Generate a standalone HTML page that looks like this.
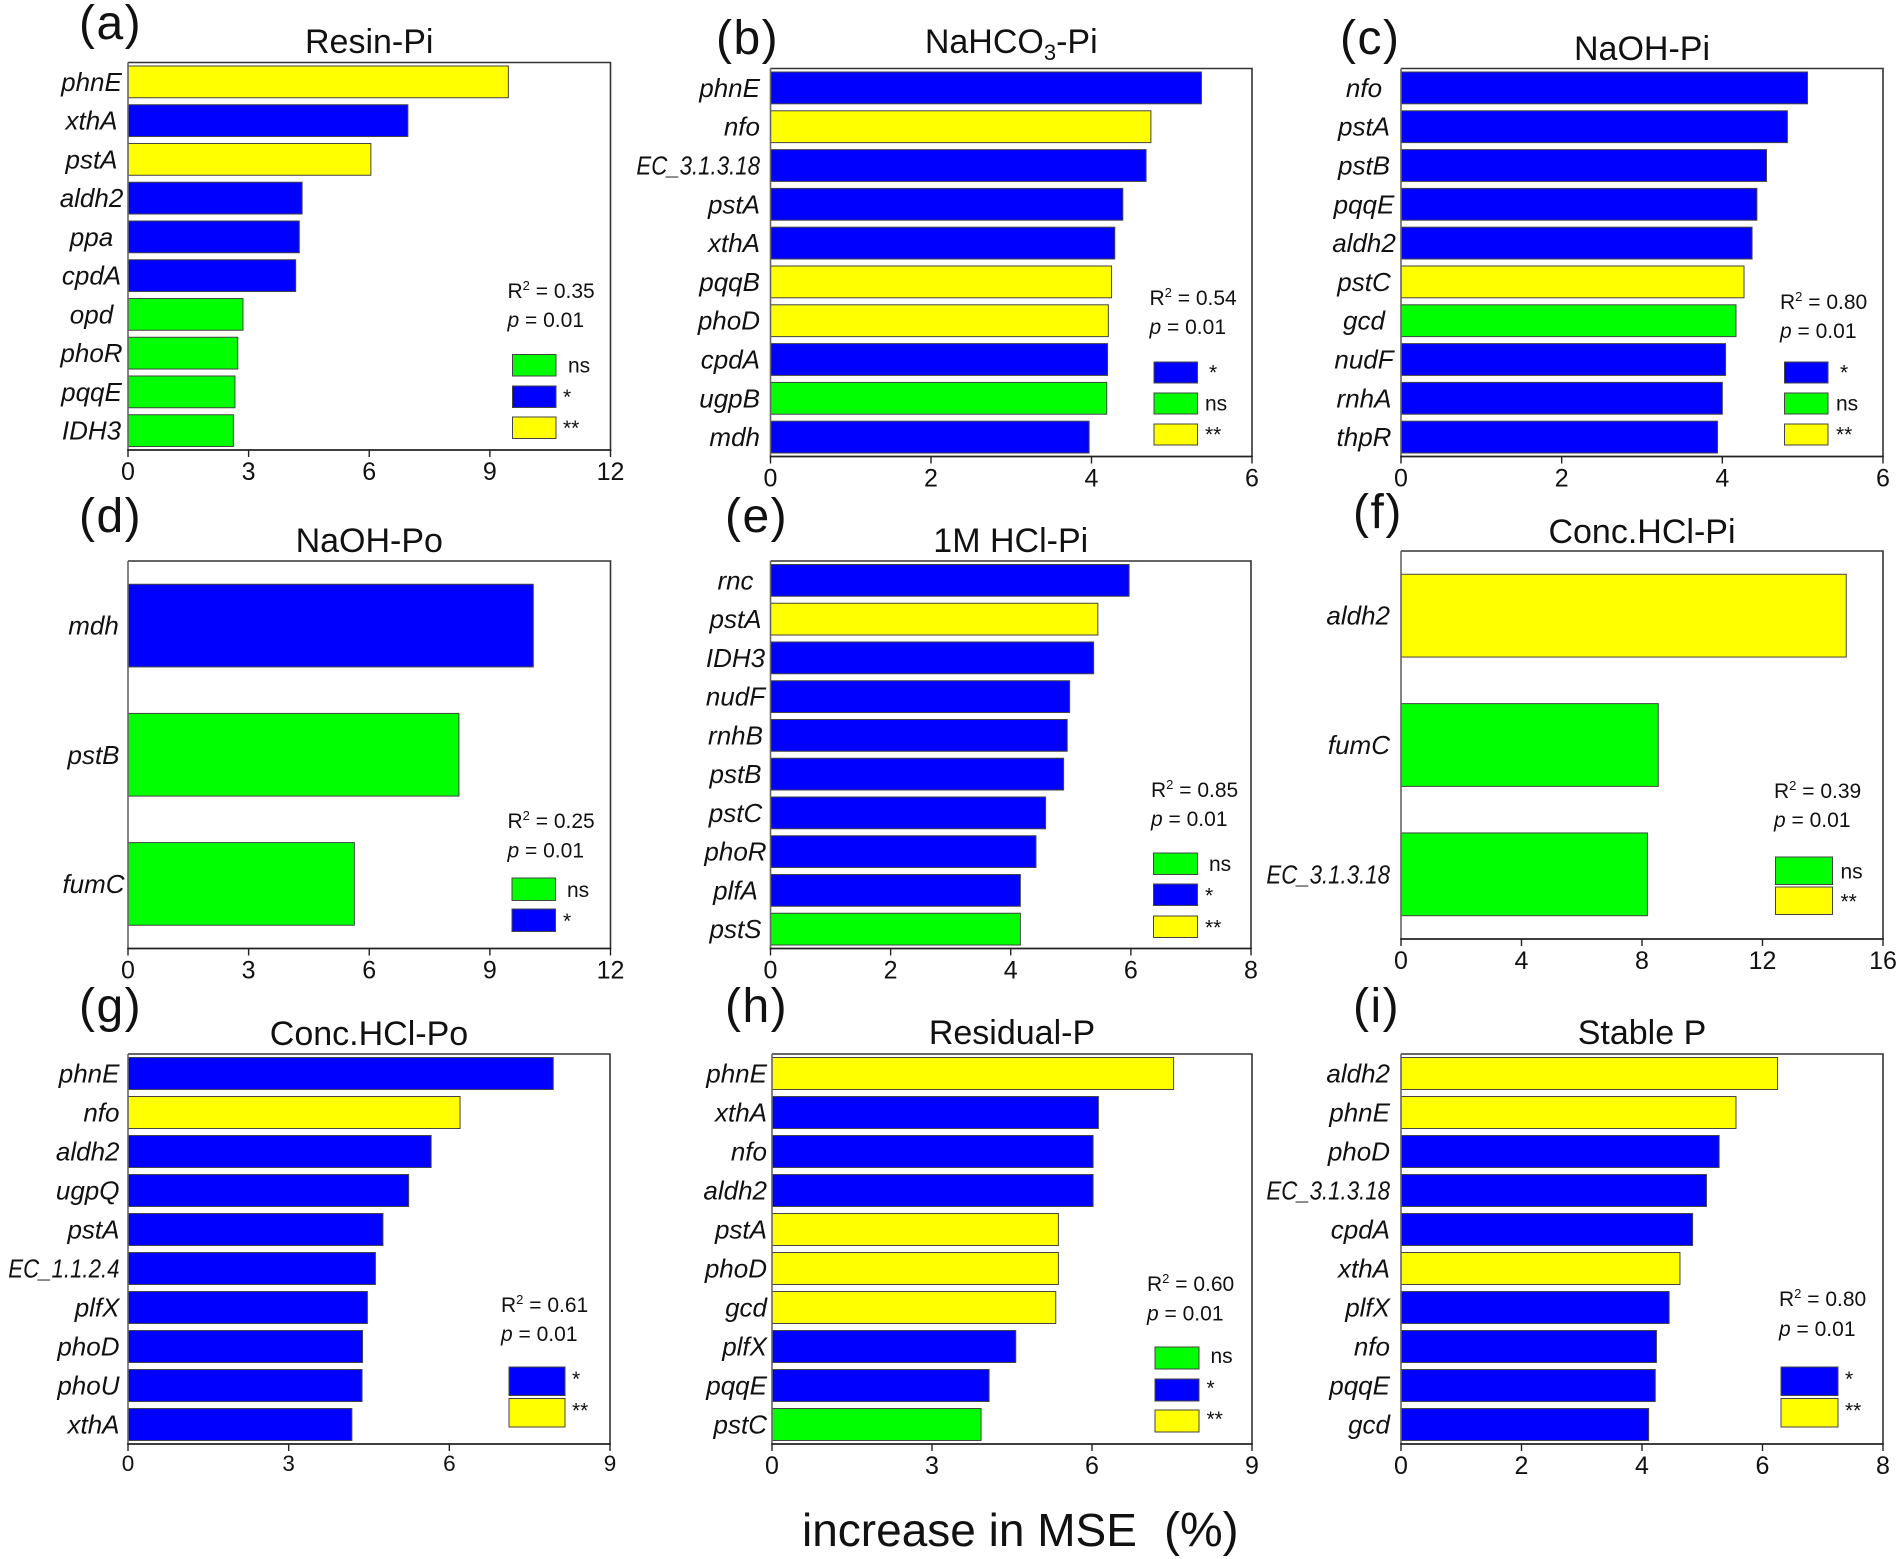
<!DOCTYPE html>
<html lang="en">
<head>
<meta charset="utf-8">
<title>Increase in MSE by gene across phosphorus fractions</title>
<style>
html,body{margin:0;padding:0;background:#fff;}
svg{display:block;}
text{font-family:"Liberation Sans","DejaVu Sans",sans-serif;fill:#111;}
</style>
</head>
<body>
<svg id="figure" xmlns="http://www.w3.org/2000/svg" width="1902" height="1559" viewBox="0 0 1902 1559">
<rect x="0" y="0" width="1902" height="1559" fill="#ffffff"/>
<text x="802" y="1546" font-size="46">increase in MSE<tspan x="1164" font-size="48">(%)</tspan></text>
</svg>
<script>
// ---- chart data: categories, series values, significance, tick labels ----
const genesA=['phnE','xthA','pstA','aldh2','ppa','cpdA','opd','phoR','pqqE','IDH3'];
const valuesA=[9.46,6.96,6.04,4.33,4.26,4.17,2.86,2.73,2.66,2.62];
const signifA=['**','*','**','*','*','*','ns','ns','ns','ns'];
const ticksA=[0,3,6,9,12];
const legendA=['ns','*','**'];
const statsA=['0.35','0.01'];

const genesB=['phnE','nfo','EC_3.1.3.18','pstA','xthA','pqqB','phoD','cpdA','ugpB','mdh'];
const valuesB=[5.37,4.74,4.68,4.39,4.29,4.25,4.21,4.20,4.19,3.97];
const signifB=['*','**','*','*','*','**','**','*','ns','*'];
const ticksB=[0,2,4,6];
const legendB=['*','ns','**'];
const statsB=['0.54','0.01'];

const genesC=['nfo','pstA','pstB','pqqE','aldh2','pstC','gcd','nudF','rnhA','thpR'];
const valuesC=[5.06,4.81,4.55,4.43,4.37,4.27,4.17,4.04,4.00,3.94];
const signifC=['*','*','*','*','*','**','ns','*','*','*'];
const ticksC=[0,2,4,6];
const legendC=['*','ns','**'];
const statsC=['0.80','0.01'];

const genesD=['mdh','pstB','fumC'];
const valuesD=[10.08,8.23,5.63];
const signifD=['*','ns','ns'];
const ticksD=[0,3,6,9,12];
const legendD=['ns','*'];
const statsD=['0.25','0.01'];

const genesE=['rnc','pstA','IDH3','nudF','rnhB','pstB','pstC','phoR','plfA','pstS'];
const valuesE=[5.97,5.45,5.38,4.98,4.94,4.88,4.58,4.42,4.16,4.16];
const signifE=['*','**','*','*','*','*','*','*','*','ns'];
const ticksE=[0,2,4,6,8];
const legendE=['ns','*','**'];
const statsE=['0.85','0.01'];

const genesF=['aldh2','fumC','EC_3.1.3.18'];
const valuesF=[14.78,8.54,8.18];
const signifF=['**','ns','ns'];
const ticksF=[0,4,8,12,16];
const legendF=['ns','**'];
const statsF=['0.39','0.01'];

const genesG=['phnE','nfo','aldh2','ugpQ','pstA','EC_1.1.2.4','plfX','phoD','phoU','xthA'];
const valuesG=[7.94,6.20,5.66,5.24,4.76,4.62,4.47,4.38,4.37,4.18];
const signifG=['*','**','*','*','*','*','*','*','*','*'];
const ticksG=[0,3,6,9];
const legendG=['*','**'];
const statsG=['0.61','0.01'];

const genesH=['phnE','xthA','nfo','aldh2','pstA','phoD','gcd','plfX','pqqE','pstC'];
const valuesH=[7.53,6.12,6.02,6.02,5.37,5.37,5.32,4.57,4.07,3.92];
const signifH=['**','*','*','*','**','**','**','*','*','ns'];
const ticksH=[0,3,6,9];
const legendH=['ns','*','**'];
const statsH=['0.60','0.01'];

const genesI=['aldh2','phnE','phoD','EC_3.1.3.18','cpdA','xthA','plfX','nfo','pqqE','gcd'];
const valuesI=[6.25,5.56,5.28,5.07,4.84,4.63,4.45,4.24,4.22,4.11];
const signifI=['**','**','*','*','*','**','*','*','*','*'];
const ticksI=[0,2,4,6,8];
const legendI=['*','**'];
const statsI=['0.80','0.01'];

const colorFor={'ns':'#00ff00','*':'#0000ff','**':'#ffff00'};

// ---- layout (pixels), kept apart from the data ----
const panels=[
 {id:'a',title:'Resin-Pi',genes:genesA,values:valuesA,sig:signifA,ticks:ticksA,legend:legendA,stats:statsA,
  box:[128,62.5,610.5,450],letter:[79,39],titleY:53,label:['middle',91.5],tickFont:25,tickGap:30,
  r2:[507.5,298,327],swatch:[512.5,43.5,21.5],swatchY:[354.5,386,417],labelX:[568,563,563],nsOff:3.5,starOff:3.5},
 {id:'b',title:'NaHCO3-Pi',genes:genesB,values:valuesB,sig:signifB,ticks:ticksB,legend:legendB,stats:statsB,
  box:[770.5,68.5,1252,456.5],letter:[716,54],titleY:53,label:['end',760],tickFont:25,tickGap:30,
  r2:[1149.5,305,334],swatch:[1154,43.5,21],swatchY:[362,393,424],labelX:[1209,1205,1205],nsOff:3.5,starOff:3.5},
 {id:'c',title:'NaOH-Pi',genes:genesC,values:valuesC,sig:signifC,ticks:ticksC,legend:legendC,stats:statsC,
  box:[1401,68.5,1883,456.5],letter:[1340,54],titleY:60,label:['middle',1364],tickFont:25,tickGap:30,
  r2:[1780,309,338],swatch:[1784.5,43.5,21],swatchY:[362,393,424],labelX:[1840,1836,1836],nsOff:3.5,starOff:3.5},
 {id:'d',title:'NaOH-Po',genes:genesD,values:valuesD,sig:signifD,ticks:ticksD,legend:legendD,stats:statsD,
  box:[128,561,610.5,948.5],letter:[79,532],titleY:552,label:['middle',93.5],tickFont:25,tickGap:30,
  r2:[507.5,828,857.5],swatch:[512,43.5,22.5],swatchY:[878,909],labelX:[567,563],nsOff:3.5,starOff:3.5},
 {id:'e',title:'1M HCl-Pi',genes:genesE,values:valuesE,sig:signifE,ticks:ticksE,legend:legendE,stats:statsE,
  box:[770.5,561,1251,948.5],letter:[725,532],titleY:552,label:['middle',735.5],tickFont:25,tickGap:30,
  r2:[1151,797,826],swatch:[1153.5,44,21.5],swatchY:[853,884,916],labelX:[1209,1205,1205],nsOff:3.5,starOff:3},
 {id:'f',title:'Conc.HCl-Pi',genes:genesF,values:valuesF,sig:signifF,ticks:ticksF,legend:legendF,stats:statsF,
  box:[1401,551,1883,939],letter:[1353,528],titleY:543,label:['end',1390],tickFont:25,tickGap:30,
  r2:[1774,798,827],swatch:[1775.5,57,27.5],swatchY:[857,887],labelX:[1840.5,1840.5],nsOff:6,starOff:6},
 {id:'g',title:'Conc.HCl-Po',genes:genesG,values:valuesG,sig:signifG,ticks:ticksG,legend:legendG,stats:statsG,
  box:[128,1054,610,1444],letter:[79,1022],titleY:1045,label:['end',119.5],tickFont:22.5,tickGap:27,
  r2:[501,1312,1341],swatch:[509,56,28.5],swatchY:[1367,1398.5],labelX:[572,572],nsOff:6,starOff:9.5},
 {id:'h',title:'Residual-P',genes:genesH,values:valuesH,sig:signifH,ticks:ticksH,legend:legendH,stats:statsH,
  box:[772,1054,1252,1444],letter:[725,1022],titleY:1044,label:['end',767],tickFont:25,tickGap:30,
  r2:[1147,1291,1320.5],swatch:[1155,44,22],swatchY:[1347,1379,1410],labelX:[1210.5,1206.5,1206.5],nsOff:6,starOff:6},
 {id:'i',title:'Stable P',genes:genesI,values:valuesI,sig:signifI,ticks:ticksI,legend:legendI,stats:statsI,
  box:[1401,1054,1883,1444],letter:[1353,1022],titleY:1044,label:['end',1390],tickFont:25,tickGap:30,
  r2:[1779,1306,1336],swatch:[1781,57,28.5],swatchY:[1367,1398.5],labelX:[1845,1845],nsOff:6,starOff:9.5}
];

const NS='http://www.w3.org/2000/svg';
const figure=document.getElementById('figure');

function node(tag,attrs,parent,content){
  const el=document.createElementNS(NS,tag);
  for(const k in attrs){el.setAttribute(k,attrs[k]);}
  if(content!==undefined){el.textContent=content;}
  parent.appendChild(el);
  return el;
}
// axis functions
function makeXAxis(p){
  const max=p.ticks[p.ticks.length-1];
  return function(v){return p.box[0]+(v/max)*(p.box[2]-p.box[0]);};
}
function makeBand(p){
  const step=(p.box[3]-p.box[1])/p.genes.length;
  const ratio=p.genes.length<=3?0.64:0.82;
  return {center:function(i){return p.box[1]+step*(i+0.5);},thickness:step*ratio};
}

panels.forEach(function(p){
  const x=makeXAxis(p);
  const band=makeBand(p);
  const L=p.box[0],T=p.box[1],R=p.box[2],B=p.box[3];

  const group=node('g',{},figure);
  
  

  const letter=node('text',{x:p.letter[0],y:p.letter[1],'font-size':48,'letter-spacing':1.5},group,'('+p.id+')');
  
  

  const title=node('text',{x:(L+R)/2,y:p.titleY,'font-size':34,'text-anchor':'middle'},group);
  
  
  if(p.title.indexOf('3-')>=0){
    const parts=p.title.split('3');
    node('tspan',{},title,parts[0]);
    node('tspan',{'font-size':22,dy:7},title,'3');
    node('tspan',{dy:-7},title,parts[1]);
  }else{
    title.textContent=p.title;
  }

  const frame=node('path',{d:'M'+L+' '+T+'H'+R+'V'+B,fill:'none',stroke:'#333',"stroke-width":1.6},group);
  
  

  p.genes.forEach(function(g,i){
    const h=band.thickness;
    const y=band.center(i)-h/2;
    const bar=node('rect',{x:L,y:y,width:x(p.values[i])-L,height:h,fill:colorFor[p.sig[i]],stroke:'#444','stroke-width':1},group);
    
    

    const lab=node('text',{x:p.label[1],y:band.center(i)+9,'font-size':26,'font-style':'italic','text-anchor':p.label[0]},group,g);
    
    
    if(g.indexOf('EC_')===0){
      lab.setAttribute('textLength',lab.getComputedTextLength()*0.855);
      lab.setAttribute('lengthAdjust','spacingAndGlyphs');
    }
  });

  const yAxis=node('line',{x1:L,y1:T,x2:L,y2:B,stroke:'#666','stroke-width':1.6},group);
  
  

  const xAxis=node('line',{x1:L-0.8,y1:B,x2:R+0.8,y2:B,stroke:'#222','stroke-width':1.8},group);
  
  

  p.ticks.forEach(function(t){
    const tick=node('line',{x1:x(t),y1:B,x2:x(t),y2:B+7,stroke:'#222','stroke-width':1.4},group);
    
    

    const tl=node('text',{x:x(t),y:B+p.tickGap,'font-size':p.tickFont,'text-anchor':'middle'},group,String(t));
    
    
  });

  const r2=node('text',{x:p.r2[0],y:p.r2[1],'font-size':21},group);
  
  
  node('tspan',{},r2,'R');
  node('tspan',{'font-size':13,dy:-8},r2,'2');
  node('tspan',{dy:8},r2,' = '+p.stats[0]);

  const pv=node('text',{x:p.r2[0],y:p.r2[2],'font-size':21},group);
  
  
  node('tspan',{'font-style':'italic'},pv,'p');
  node('tspan',{},pv,' = '+p.stats[1]);

  p.legend.forEach(function(key,i){
    const sy=p.swatchY[i];
    const sw=node('rect',{x:p.swatch[0],y:sy,width:p.swatch[1],height:p.swatch[2],fill:colorFor[key],stroke:'#444','stroke-width':1},group);
    
    

    const offset=key==='ns'?p.nsOff:p.starOff;
    const lt=node('text',{x:p.labelX[i],y:sy+p.swatch[2]-offset,'font-size':21},group,key);
    
    
  });
});
</script>
</body>
</html>
